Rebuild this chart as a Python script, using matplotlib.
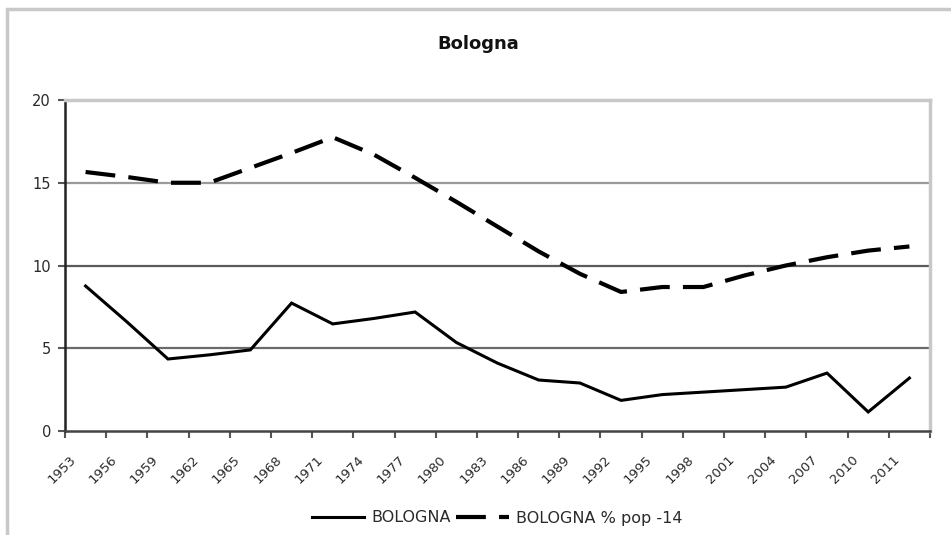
import matplotlib
matplotlib.use("Agg")
import matplotlib.pyplot as plt
import matplotlib.transforms as mtransforms
from matplotlib.patches import Rectangle
from matplotlib.lines import Line2D
import numpy as np

years = ["1953", "1956", "1959", "1962", "1965", "1968", "1971", "1974", "1977",
         "1980", "1983", "1986", "1989", "1992", "1995", "1998", "2001", "2004",
         "2007", "2010", "2011"]
bologna = [8.76, 6.6, 4.35, 4.6, 4.9, 7.73, 6.47, 6.8, 7.19, 5.35, 4.1, 3.08, 2.9,
           1.85, 2.2, 2.35, 2.5, 2.65, 3.5, 1.15, 3.2]
bologna_pop14 = [15.65, 15.35, 15.0, 15.0, 15.9, 16.8, 17.75, 16.7, 15.3, 13.85,
                 12.35, 10.85, 9.5, 8.4, 8.7, 8.7, 9.4, 10.0, 10.5, 10.9, 11.15]
yticks = [0, 5, 10, 15, 20]

plt.rcParams['lines.scale_dashes'] = False
plt.rcParams['font.family'] = ['DejaVu Sans']

W, H = 951, 535
fig = plt.figure(figsize=(W / 100, H / 100), dpi=100)
fig.patch.set_facecolor('white')

# outer chart border (only left/top visible in the crop)
fig.patches.append(Rectangle((7 / W, -0.2), 2.0, 1.2 - 9 / H, transform=fig.transFigure,
                             fill=False, edgecolor='#c8c8c8', linewidth=2.5, zorder=0))

ax = fig.add_axes([65 / W, 1 - 431 / H, (930 - 65) / W, (431 - 100) / H])
x = np.arange(len(years))

ax.plot(x, bologna, color='black', linewidth=2.2, solid_joinstyle='miter', zorder=3)
ax.plot(x, bologna_pop14, color='black', linewidth=3.0, dashes=(21.5, 9.5), zorder=3)

ax.set_xlim(-0.5, len(years) - 0.5)
ax.set_ylim(0, 20)
ax.set_yticks(yticks)
ax.set_yticklabels([str(v) for v in yticks], fontsize=10.5, color='#2a2a2a')

ax.set_xticks(x)
ax.set_xticklabels(years, rotation=45, ha='right', va='center', rotation_mode='anchor',
                   fontsize=9.5, color='#2a2a2a')
ax.set_xticks(np.arange(len(years) + 1) - 0.5, minor=True)
ax.tick_params(axis='x', which='major', length=0, pad=19)
ax.tick_params(axis='x', which='minor', length=5, width=1.5, color='#555555', direction='out')
ax.tick_params(axis='y', length=5, width=1.5, color='#555555', direction='out', pad=5)
offset = mtransforms.ScaledTranslation(-12 / 100, 0, fig.dpi_scale_trans)
for lab in ax.get_xticklabels():
    lab.set_transform(lab.get_transform() + offset)

# gridlines
grid_colors = {5: '#6a6a6a', 10: '#5a5a5a', 15: '#9a9a9a'}
for v, c in grid_colors.items():
    ax.axhline(v, color=c, linewidth=1.6, zorder=1)

for side in ['top', 'right']:
    ax.spines[side].set_color('#c8c8c8')
    ax.spines[side].set_linewidth(2.5)
ax.spines['left'].set_color('#222222')
ax.spines['left'].set_linewidth(1.8)
ax.spines['bottom'].set_color('#444444')
ax.spines['bottom'].set_linewidth(1.8)

fig.text(478 / W, 1 - 44 / H, 'Bologna', ha='center', va='center', fontsize=13,
         fontweight='bold', color='#111111')

handles = [Line2D([], [], color='black', linewidth=2.2),
           Line2D([], [], color='black', linewidth=3.0, dashes=(21.5, 9.5))]
fig.legend(handles, ['BOLOGNA', 'BOLOGNA % pop -14'], loc='center',
           bbox_to_anchor=(497 / W, 1 - 518 / H), ncol=2, frameon=False,
           fontsize=11.5, handlelength=3.3, handletextpad=0.45, columnspacing=0.3,
           labelcolor='#2a2a2a')

fig.savefig('out.png', dpi=100, facecolor='white')
